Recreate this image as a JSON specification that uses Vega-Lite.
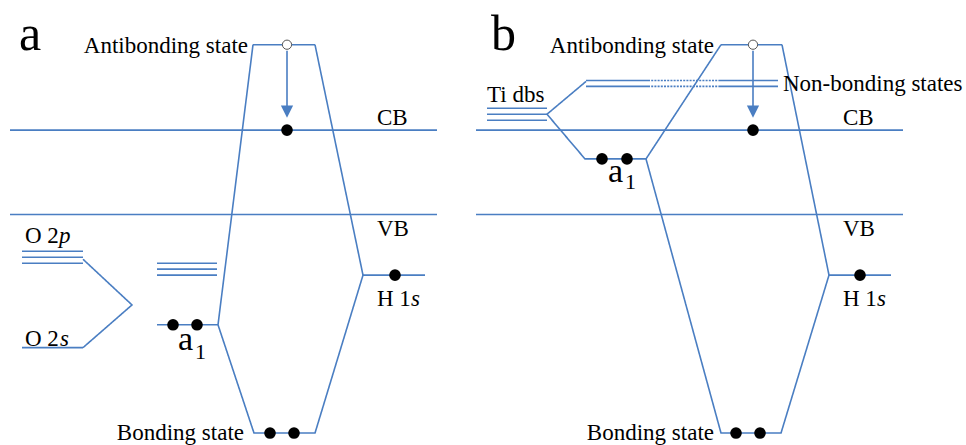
{
  "$schema": "https://vega.github.io/schema/vega-lite/v6.json",
  "width": 966,
  "height": 445,
  "padding": 0,
  "autosize": {"type": "fit", "contains": "padding"},
  "background": "white",
  "config": {"view": {"stroke": null}, "text": {"font": "Times New Roman, Liberation Serif, DejaVu Serif, serif"}},
  "datasets": {
    "lines": [
      {"id": "aAB", "o": 1, "x": 253, "y": 45, "k": "visible"},
      {"id": "aAB", "o": 2, "x": 315, "y": 45, "k": "visible"},
      {"id": "aL", "o": 1, "x": 253, "y": 45, "k": "visible"},
      {"id": "aL", "o": 2, "x": 218, "y": 327, "k": "visible"},
      {"id": "aR", "o": 1, "x": 315, "y": 45, "k": "visible"},
      {"id": "aR", "o": 2, "x": 363, "y": 277, "k": "visible"},
      {"id": "aCB", "o": 1, "x": 10, "y": 131, "k": "visible"},
      {"id": "aCB", "o": 2, "x": 437, "y": 131, "k": "visible"},
      {"id": "aVB", "o": 1, "x": 10, "y": 216, "k": "visible"},
      {"id": "aVB", "o": 2, "x": 437, "y": 216, "k": "visible"},
      {"id": "aO2p1", "o": 1, "x": 22, "y": 253, "k": "visible"},
      {"id": "aO2p1", "o": 2, "x": 83, "y": 253, "k": "visible"},
      {"id": "aO2p2", "o": 1, "x": 22, "y": 259, "k": "visible"},
      {"id": "aO2p2", "o": 2, "x": 83, "y": 259, "k": "visible"},
      {"id": "aO2p3", "o": 1, "x": 22, "y": 265, "k": "visible"},
      {"id": "aO2p3", "o": 2, "x": 83, "y": 265, "k": "visible"},
      {"id": "aOsp", "o": 1, "x": 83, "y": 261, "k": "visible"},
      {"id": "aOsp", "o": 2, "x": 132, "y": 307, "k": "visible"},
      {"id": "aOsp", "o": 3, "x": 83, "y": 350, "k": "visible"},
      {"id": "aO2s", "o": 1, "x": 22, "y": 350, "k": "visible"},
      {"id": "aO2s", "o": 2, "x": 83, "y": 350, "k": "visible"},
      {"id": "aM1", "o": 1, "x": 157, "y": 265, "k": "visible"},
      {"id": "aM1", "o": 2, "x": 217, "y": 265, "k": "visible"},
      {"id": "aM2", "o": 1, "x": 157, "y": 271, "k": "visible"},
      {"id": "aM2", "o": 2, "x": 217, "y": 271, "k": "visible"},
      {"id": "aM3", "o": 1, "x": 157, "y": 277, "k": "visible"},
      {"id": "aM3", "o": 2, "x": 217, "y": 277, "k": "visible"},
      {"id": "aBond", "o": 1, "x": 157, "y": 327, "k": "visible"},
      {"id": "aBond", "o": 2, "x": 218, "y": 327, "k": "visible"},
      {"id": "aBond", "o": 3, "x": 254, "y": 436, "k": "visible"},
      {"id": "aBond", "o": 4, "x": 315, "y": 436, "k": "visible"},
      {"id": "aBond", "o": 5, "x": 363, "y": 277, "k": "visible"},
      {"id": "aBond", "o": 6, "x": 425, "y": 277, "k": "visible"},
      {"id": "aArrow", "o": 1, "x": 287, "y": 51, "k": "visible"},
      {"id": "aArrow", "o": 2, "x": 287, "y": 108, "k": "visible"},
      {"id": "bAB", "o": 1, "x": 721, "y": 45, "k": "visible"},
      {"id": "bAB", "o": 2, "x": 782, "y": 45, "k": "visible"},
      {"id": "bL", "o": 1, "x": 646, "y": 160, "k": "visible"},
      {"id": "bL", "o": 2, "x": 721, "y": 45, "k": "visible"},
      {"id": "bR", "o": 1, "x": 782, "y": 45, "k": "visible"},
      {"id": "bR", "o": 2, "x": 829, "y": 277, "k": "visible"},
      {"id": "bCB", "o": 1, "x": 476, "y": 131, "k": "visible"},
      {"id": "bCB", "o": 2, "x": 903, "y": 131, "k": "visible"},
      {"id": "bVB", "o": 1, "x": 476, "y": 216, "k": "visible"},
      {"id": "bVB", "o": 2, "x": 903, "y": 216, "k": "visible"},
      {"id": "bTi1", "o": 1, "x": 487, "y": 109, "k": "visible"},
      {"id": "bTi1", "o": 2, "x": 547, "y": 109, "k": "visible"},
      {"id": "bTi2", "o": 1, "x": 487, "y": 115, "k": "visible"},
      {"id": "bTi2", "o": 2, "x": 547, "y": 115, "k": "visible"},
      {"id": "bTi3", "o": 1, "x": 487, "y": 121, "k": "visible"},
      {"id": "bTi3", "o": 2, "x": 547, "y": 121, "k": "visible"},
      {"id": "bSplit", "o": 1, "x": 586, "y": 82, "k": "visible"},
      {"id": "bSplit", "o": 2, "x": 547, "y": 115, "k": "visible"},
      {"id": "bSplit", "o": 3, "x": 585, "y": 160, "k": "visible"},
      {"id": "bSplit", "o": 4, "x": 646, "y": 160, "k": "visible"},
      {"id": "bSplit", "o": 5, "x": 721, "y": 436, "k": "visible"},
      {"id": "bSplit", "o": 6, "x": 781, "y": 436, "k": "visible"},
      {"id": "bSplit", "o": 7, "x": 829, "y": 277, "k": "visible"},
      {"id": "bSplit", "o": 8, "x": 891, "y": 277, "k": "visible"},
      {"id": "bNB1a", "o": 1, "x": 586, "y": 81, "k": "visible"},
      {"id": "bNB1a", "o": 2, "x": 648, "y": 81, "k": "visible"},
      {"id": "bNB1b", "o": 1, "x": 648, "y": 81, "k": "hidden"},
      {"id": "bNB1b", "o": 2, "x": 720, "y": 81, "k": "hidden"},
      {"id": "bNB1c", "o": 1, "x": 720, "y": 81, "k": "visible"},
      {"id": "bNB1c", "o": 2, "x": 778, "y": 81, "k": "visible"},
      {"id": "bNB2a", "o": 1, "x": 586, "y": 87, "k": "visible"},
      {"id": "bNB2a", "o": 2, "x": 648, "y": 87, "k": "visible"},
      {"id": "bNB2b", "o": 1, "x": 648, "y": 87, "k": "hidden"},
      {"id": "bNB2b", "o": 2, "x": 720, "y": 87, "k": "hidden"},
      {"id": "bNB2c", "o": 1, "x": 720, "y": 87, "k": "visible"},
      {"id": "bNB2c", "o": 2, "x": 778, "y": 87, "k": "visible"},
      {"id": "bArrow", "o": 1, "x": 753, "y": 51, "k": "visible"},
      {"id": "bArrow", "o": 2, "x": 753, "y": 108, "k": "visible"}
    ],
    "heads": [
      {"x": 287, "y": 112.5},
      {"x": 753, "y": 112.5}
    ],
    "electrons": [
      {"x": 287, "y": 131, "state": "occupied"},
      {"x": 173, "y": 327, "state": "occupied"},
      {"x": 197, "y": 327, "state": "occupied"},
      {"x": 270, "y": 436, "state": "occupied"},
      {"x": 294, "y": 436, "state": "occupied"},
      {"x": 395, "y": 277, "state": "occupied"},
      {"x": 753, "y": 131, "state": "occupied"},
      {"x": 602, "y": 160, "state": "occupied"},
      {"x": 627, "y": 160, "state": "occupied"},
      {"x": 736, "y": 436, "state": "occupied"},
      {"x": 760, "y": 436, "state": "occupied"},
      {"x": 860, "y": 277, "state": "occupied"},
      {"x": 287, "y": 45, "state": "empty"},
      {"x": 753, "y": 45, "state": "empty"}
    ],
    "labels": [
      {"label": "a", "x": 19, "y": 50, "role": "panel"},
      {"label": "b", "x": 491, "y": 50, "role": "panel"},
      {"label": "Antibonding state", "x": 248, "y": 53, "role": "state"},
      {"label": "Antibonding state", "x": 714, "y": 53, "role": "state"},
      {"label": "Bonding state", "x": 244, "y": 443, "role": "state"},
      {"label": "Bonding state", "x": 714, "y": 443, "role": "state"},
      {"label": "CB", "x": 377, "y": 126, "role": "band"},
      {"label": "VB", "x": 377, "y": 238, "role": "band"},
      {"label": "CB", "x": 843, "y": 126, "role": "band"},
      {"label": "VB", "x": 843, "y": 238, "role": "band"},
      {"label": "O 2", "x": 25, "y": 245, "role": "band"},
      {"label": "O 2", "x": 25, "y": 348, "role": "band"},
      {"label": "H 1", "x": 377, "y": 308, "role": "band"},
      {"label": "H 1", "x": 843, "y": 308, "role": "band"},
      {"label": "Ti dbs", "x": 487, "y": 103, "role": "band"},
      {"label": "Non-bonding states", "x": 783, "y": 92, "role": "band"},
      {"label": "p", "x": 59, "y": 245, "role": "italic"},
      {"label": "s", "x": 60, "y": 348, "role": "italic"},
      {"label": "s", "x": 411, "y": 308, "role": "italic"},
      {"label": "s", "x": 877, "y": 308, "role": "italic"},
      {"label": "a", "x": 178, "y": 352, "role": "orbital"},
      {"label": "a", "x": 608, "y": 183, "role": "orbital"},
      {"label": "1", "x": 195, "y": 361, "role": "sub"},
      {"label": "1", "x": 625, "y": 190, "role": "sub"}
    ]
  },
  "layer": [
    {
      "data": {"name": "lines"},
      "mark": {"type": "line", "color": "#4a7ec2", "strokeWidth": 1.6},
      "encoding": {
        "x": {"field": "x", "type": "quantitative", "scale": {"domain": [0, 966], "nice": false, "zero": false}, "axis": null},
        "y": {"field": "y", "type": "quantitative", "scale": {"domain": [0, 445], "nice": false, "zero": false, "reverse": true}, "axis": null},
        "detail": {"field": "id", "type": "nominal"},
        "order": {"field": "o", "type": "quantitative"},
        "strokeDash": {"field": "k", "type": "nominal", "scale": {"domain": ["visible", "hidden"], "range": [[1, 0], [2, 1.2]]}, "legend": null}
      }
    },
    {
      "data": {"name": "heads"},
      "mark": {"type": "point", "shape": "M -1 -1 L 1 -1 L 0 1 Z", "filled": true, "color": "#4a7ec2", "opacity": 1, "size": 150},
      "encoding": {
        "x": {"field": "x", "type": "quantitative", "scale": {"domain": [0, 966], "nice": false, "zero": false}, "axis": null},
        "y": {"field": "y", "type": "quantitative", "scale": {"domain": [0, 445], "nice": false, "zero": false, "reverse": true}, "axis": null}
      }
    },
    {
      "data": {"name": "electrons"},
      "transform": [{"filter": "datum.state === 'occupied'"}],
      "mark": {"type": "circle", "color": "black", "opacity": 1, "size": 135},
      "encoding": {
        "x": {"field": "x", "type": "quantitative", "scale": {"domain": [0, 966], "nice": false, "zero": false}, "axis": null},
        "y": {"field": "y", "type": "quantitative", "scale": {"domain": [0, 445], "nice": false, "zero": false, "reverse": true}, "axis": null}
      }
    },
    {
      "data": {"name": "electrons"},
      "transform": [{"filter": "datum.state === 'empty'"}],
      "mark": {"type": "point", "shape": "circle", "filled": true, "fill": "white", "stroke": "#555555", "strokeWidth": 1, "opacity": 1, "size": 85},
      "encoding": {
        "x": {"field": "x", "type": "quantitative", "scale": {"domain": [0, 966], "nice": false, "zero": false}, "axis": null},
        "y": {"field": "y", "type": "quantitative", "scale": {"domain": [0, 445], "nice": false, "zero": false, "reverse": true}, "axis": null}
      }
    },
    {
      "data": {"name": "labels"},
      "transform": [{"filter": "datum.role === 'panel'"}],
      "mark": {"type": "text", "fontSize": 50, "align": "left", "baseline": "alphabetic", "color": "black"},
      "encoding": {
        "x": {"field": "x", "type": "quantitative", "scale": {"domain": [0, 966], "nice": false, "zero": false}, "axis": null},
        "y": {"field": "y", "type": "quantitative", "scale": {"domain": [0, 445], "nice": false, "zero": false, "reverse": true}, "axis": null},
        "text": {"field": "label"}
      }
    },
    {
      "data": {"name": "labels"},
      "transform": [{"filter": "datum.role === 'state'"}],
      "mark": {"type": "text", "fontSize": 23, "align": "right", "baseline": "alphabetic", "color": "black"},
      "encoding": {
        "x": {"field": "x", "type": "quantitative", "scale": {"domain": [0, 966], "nice": false, "zero": false}, "axis": null},
        "y": {"field": "y", "type": "quantitative", "scale": {"domain": [0, 445], "nice": false, "zero": false, "reverse": true}, "axis": null},
        "text": {"field": "label"}
      }
    },
    {
      "data": {"name": "labels"},
      "transform": [{"filter": "datum.role === 'band'"}],
      "mark": {"type": "text", "fontSize": 23, "align": "left", "baseline": "alphabetic", "color": "black"},
      "encoding": {
        "x": {"field": "x", "type": "quantitative", "scale": {"domain": [0, 966], "nice": false, "zero": false}, "axis": null},
        "y": {"field": "y", "type": "quantitative", "scale": {"domain": [0, 445], "nice": false, "zero": false, "reverse": true}, "axis": null},
        "text": {"field": "label"}
      }
    },
    {
      "data": {"name": "labels"},
      "transform": [{"filter": "datum.role === 'italic'"}],
      "mark": {"type": "text", "fontSize": 23, "fontStyle": "italic", "align": "left", "baseline": "alphabetic", "color": "black"},
      "encoding": {
        "x": {"field": "x", "type": "quantitative", "scale": {"domain": [0, 966], "nice": false, "zero": false}, "axis": null},
        "y": {"field": "y", "type": "quantitative", "scale": {"domain": [0, 445], "nice": false, "zero": false, "reverse": true}, "axis": null},
        "text": {"field": "label"}
      }
    },
    {
      "data": {"name": "labels"},
      "transform": [{"filter": "datum.role === 'orbital'"}],
      "mark": {"type": "text", "fontSize": 34, "align": "left", "baseline": "alphabetic", "color": "black"},
      "encoding": {
        "x": {"field": "x", "type": "quantitative", "scale": {"domain": [0, 966], "nice": false, "zero": false}, "axis": null},
        "y": {"field": "y", "type": "quantitative", "scale": {"domain": [0, 445], "nice": false, "zero": false, "reverse": true}, "axis": null},
        "text": {"field": "label"}
      }
    },
    {
      "data": {"name": "labels"},
      "transform": [{"filter": "datum.role === 'sub'"}],
      "mark": {"type": "text", "fontSize": 22, "align": "left", "baseline": "alphabetic", "color": "black"},
      "encoding": {
        "x": {"field": "x", "type": "quantitative", "scale": {"domain": [0, 966], "nice": false, "zero": false}, "axis": null},
        "y": {"field": "y", "type": "quantitative", "scale": {"domain": [0, 445], "nice": false, "zero": false, "reverse": true}, "axis": null},
        "text": {"field": "label"}
      }
    }
  ]
}
